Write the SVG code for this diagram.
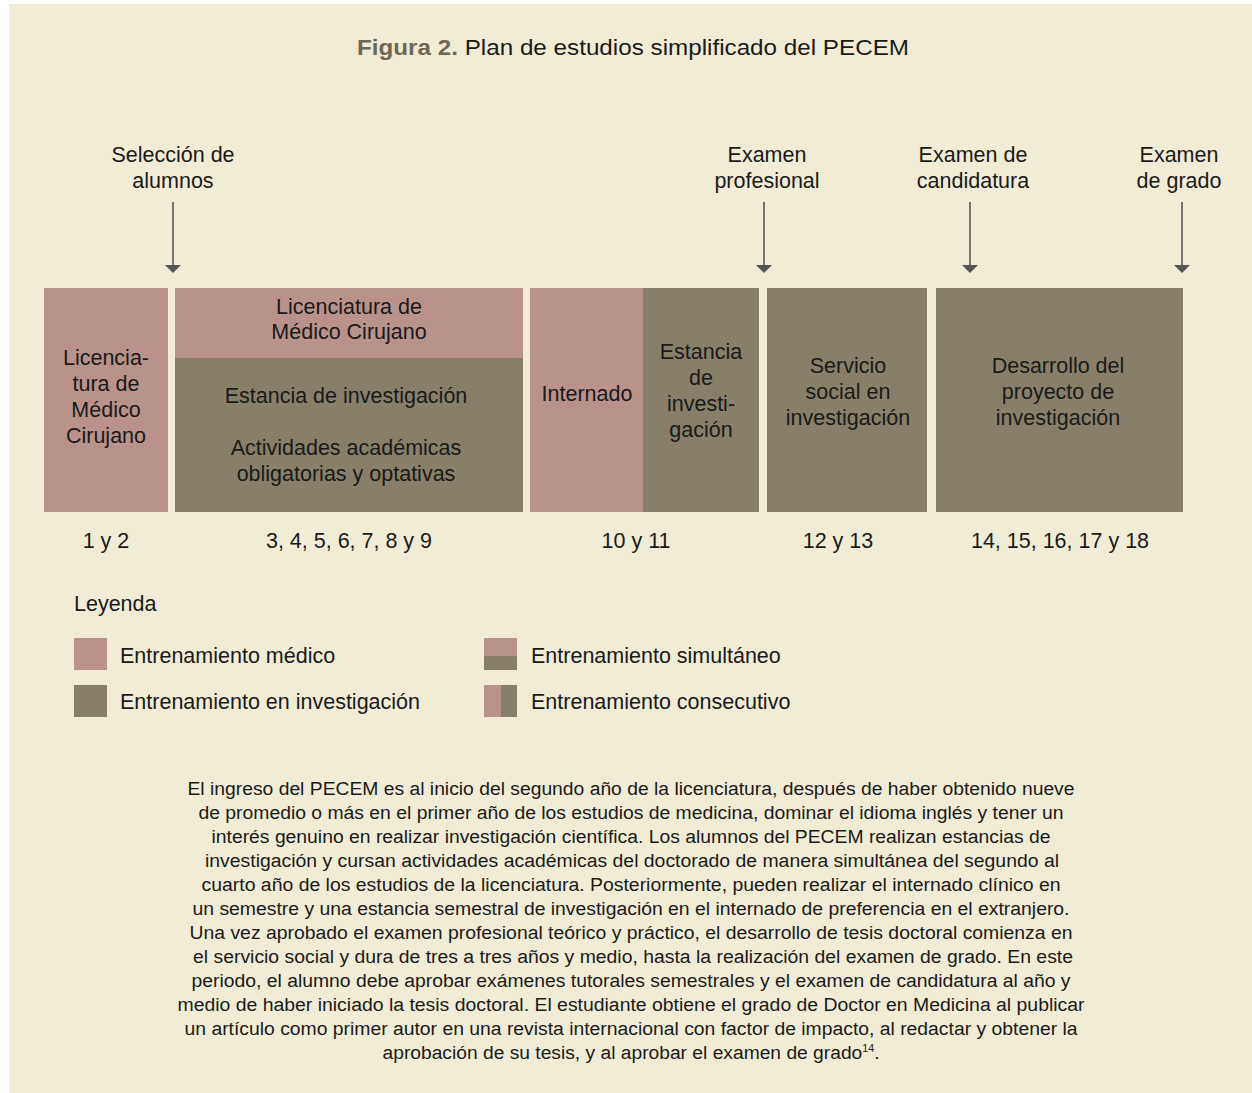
<svg xmlns="http://www.w3.org/2000/svg" width="1252" height="1093" viewBox="0 0 1252 1093">
<style>
text{font-family:"Liberation Sans",Arial,sans-serif;fill:#1a1a1a}
.lbl{font-size:21.5px;text-anchor:middle}
.leg{font-size:21.5px}
.par{font-size:18px;text-anchor:middle}
.med{fill:#b8928b}
.inv{fill:#877f69}
.arr{stroke:#555;stroke-width:1.6;fill:none}
.head{fill:#555}
</style>
<rect x="0" y="0" width="1252" height="1093" fill="#ffffff"/>
<rect x="9" y="4" width="1243" height="1089" fill="#f1ecd5"/>
<text x="633" y="55" style="font-size:22.5px;text-anchor:middle" textLength="552" lengthAdjust="spacingAndGlyphs"><tspan style="font-weight:bold;fill:#6e6757">Figura 2.</tspan> Plan de estudios simplificado del PECEM</text>

<g id="milestones">
<g id="m-seleccion"><text class="lbl" x="173" y="162">Selección de</text><text class="lbl" x="173" y="188">alumnos</text></g>
<g id="m-profesional"><text class="lbl" x="767" y="162">Examen</text><text class="lbl" x="767" y="188">profesional</text></g>
<g id="m-candidatura"><text class="lbl" x="973" y="162">Examen de</text><text class="lbl" x="973" y="188">candidatura</text></g>
<g id="m-grado"><text class="lbl" x="1179" y="162">Examen</text><text class="lbl" x="1179" y="188">de grado</text></g>
</g>

<g id="connectors">
<line class="arr" x1="173" y1="202" x2="173" y2="266"/>
<path class="head" d="M165,265 L181,265 L173,273 Z"/>
<line class="arr" x1="764" y1="202" x2="764" y2="266"/>
<path class="head" d="M756,265 L772,265 L764,273 Z"/>
<line class="arr" x1="970" y1="202" x2="970" y2="266"/>
<path class="head" d="M962,265 L978,265 L970,273 Z"/>
<line class="arr" x1="1182" y1="202" x2="1182" y2="266"/>
<path class="head" d="M1174,265 L1190,265 L1182,273 Z"/>
</g>

<g id="b1">
<rect class="med" x="44" y="288" width="124" height="224"/>
<text class="lbl" x="106" y="365">Licencia-</text>
<text class="lbl" x="106" y="391">tura de</text>
<text class="lbl" x="106" y="417">Médico</text>
<text class="lbl" x="106" y="443">Cirujano</text>
</g>
<g id="b2">
<rect class="med" x="175" y="288" width="348" height="70"/>
<rect class="inv" x="175" y="358" width="348" height="154"/>
<text class="lbl" x="349" y="314">Licenciatura de</text>
<text class="lbl" x="349" y="339">Médico Cirujano</text>
<text class="lbl" x="346" y="403">Estancia de investigación</text>
<text class="lbl" x="346" y="455">Actividades académicas</text>
<text class="lbl" x="346" y="481">obligatorias y optativas</text>
</g>
<g id="b3">
<rect class="med" x="530" y="288" width="113" height="224"/>
<rect class="inv" x="643" y="288" width="116" height="224"/>
<text class="lbl" x="587" y="401">Internado</text>
<text class="lbl" x="701" y="359">Estancia</text>
<text class="lbl" x="701" y="385">de</text>
<text class="lbl" x="701" y="411">investi-</text>
<text class="lbl" x="701" y="437">gación</text>
</g>
<g id="b4">
<rect class="inv" x="767" y="288" width="160" height="224"/>
<text class="lbl" x="848" y="373">Servicio</text>
<text class="lbl" x="848" y="399">social en</text>
<text class="lbl" x="848" y="425">investigación</text>
</g>
<g id="b5">
<rect class="inv" x="936" y="288" width="247" height="224"/>
<text class="lbl" x="1058" y="373">Desarrollo del</text>
<text class="lbl" x="1058" y="399">proyecto de</text>
<text class="lbl" x="1058" y="425">investigación</text>
</g>

<g id="years">
<text class="lbl" x="106" y="548">1 y 2</text>
<text class="lbl" x="349" y="548">3, 4, 5, 6, 7, 8 y 9</text>
<text class="lbl" x="636" y="548">10 y 11</text>
<text class="lbl" x="838" y="548">12 y 13</text>
<text class="lbl" x="1060" y="548">14, 15, 16, 17 y 18</text>
</g>

<g id="legend">
<text class="leg" x="74" y="611">Leyenda</text>
<rect class="med" x="74" y="638" width="33" height="32"/>
<text class="leg" x="120" y="663">Entrenamiento médico</text>
<rect class="inv" x="74" y="685" width="33" height="32"/>
<text class="leg" x="120" y="709">Entrenamiento en investigación</text>
<rect class="med" x="484" y="638" width="33" height="18"/>
<rect class="inv" x="484" y="656" width="33" height="14"/>
<text class="leg" x="531" y="663">Entrenamiento simultáneo</text>
<rect class="med" x="484" y="685" width="17" height="32"/>
<rect class="inv" x="501" y="685" width="16" height="32"/>
<text class="leg" x="531" y="709">Entrenamiento consecutivo</text>
</g>

<g id="caption">
<text class="par" x="631" y="795" textLength="887" lengthAdjust="spacingAndGlyphs">El ingreso del PECEM es al inicio del segundo año de la licenciatura, después de haber obtenido nueve</text>
<text class="par" x="631" y="819" textLength="865" lengthAdjust="spacingAndGlyphs">de promedio o más en el primer año de los estudios de medicina, dominar el idioma inglés y tener un</text>
<text class="par" x="631" y="843" textLength="839" lengthAdjust="spacingAndGlyphs">interés genuino en realizar investigación científica. Los alumnos del PECEM realizan estancias de</text>
<text class="par" x="632" y="867" textLength="854" lengthAdjust="spacingAndGlyphs">investigación y cursan actividades académicas del doctorado de manera simultánea del segundo al</text>
<text class="par" x="631" y="891" textLength="859" lengthAdjust="spacingAndGlyphs">cuarto año de los estudios de la licenciatura. Posteriormente, pueden realizar el internado clínico en</text>
<text class="par" x="631" y="915" textLength="877" lengthAdjust="spacingAndGlyphs">un semestre y una estancia semestral de investigación en el internado de preferencia en el extranjero.</text>
<text class="par" x="631" y="939" textLength="883" lengthAdjust="spacingAndGlyphs">Una vez aprobado el examen profesional teórico y práctico, el desarrollo de tesis doctoral comienza en</text>
<text class="par" x="633" y="963" textLength="880" lengthAdjust="spacingAndGlyphs">el servicio social y dura de tres a tres años y medio, hasta la realización del examen de grado. En este</text>
<text class="par" x="631" y="987" textLength="879" lengthAdjust="spacingAndGlyphs">periodo, el alumno debe aprobar exámenes tutorales semestrales y el examen de candidatura al año y</text>
<text class="par" x="631" y="1011" textLength="907" lengthAdjust="spacingAndGlyphs">medio de haber iniciado la tesis doctoral. El estudiante obtiene el grado de Doctor en Medicina al publicar</text>
<text class="par" x="631" y="1035" textLength="893" lengthAdjust="spacingAndGlyphs">un artículo como primer autor en una revista internacional con factor de impacto, al redactar y obtener la</text>
<text class="par" x="631" y="1059" textLength="497" lengthAdjust="spacingAndGlyphs">aprobación de su tesis, y al aprobar el examen de grado<tspan style="font-size:10px" dy="-7">14</tspan><tspan dy="7">.</tspan></text>
</g>
</svg>
